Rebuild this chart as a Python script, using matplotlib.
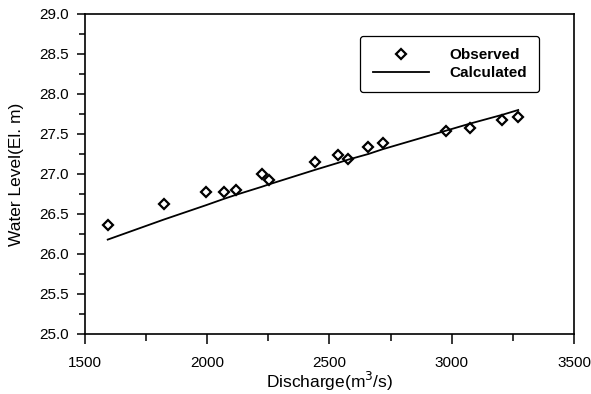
import matplotlib
matplotlib.use("Agg")
import matplotlib.pyplot as plt
from matplotlib.ticker import MultipleLocator

plt.rcParams['font.family'] = ['Liberation Sans', 'DejaVu Sans']

# discharge (m3/s) and water level (El. m)
discharge = [1593, 1822, 1995, 2069, 2118, 2223, 2252, 2439,
             2536, 2577, 2659, 2718, 2975, 3075, 3207, 3272]
observed = [26.36, 26.63, 26.78, 26.77, 26.80, 27.00, 26.92, 27.15,
            27.24, 27.19, 27.34, 27.39, 27.54, 27.57, 27.68, 27.71]
calculated = [26.18, 26.43, 26.61, 26.69, 26.74, 26.84, 26.87, 27.05,
              27.14, 27.18, 27.25, 27.31, 27.54, 27.63, 27.74, 27.80]

fig = plt.figure(figsize=(5.91, 3.94), dpi=100)
ax = fig.add_axes([0.1438, 0.1523, 0.8274, 0.8122])

ax.plot(discharge, observed, linestyle='none', marker='D', markersize=5,
        markerfacecolor='white', markeredgecolor='black', markeredgewidth=1.6,
        label='Observed')
ax.plot(discharge, calculated, color='black', linewidth=1.3, label='Calculated')

ax.set_xlim(1500, 3500)
ax.set_ylim(25.0, 29.0)
ax.xaxis.set_major_locator(MultipleLocator(500))
ax.xaxis.set_minor_locator(MultipleLocator(250))
ax.yaxis.set_major_locator(MultipleLocator(0.5))
ax.yaxis.set_minor_locator(MultipleLocator(0.25))
ax.yaxis.set_major_formatter(plt.FormatStrFormatter('%.1f'))

for s in ax.spines.values():
    s.set_linewidth(1.2)
ax.tick_params(which='both', direction='out', top=False, right=False,
               width=1.1, labelsize=11)
ax.tick_params(axis='x', which='major', length=7, pad=9)
ax.tick_params(axis='x', which='minor', length=5)
ax.tick_params(axis='y', which='major', length=5.5, pad=6)
ax.tick_params(axis='y', which='minor', length=4)

ax.set_xlabel('Discharge(m$^3$/s)', fontsize=12.5, labelpad=0)
ax.set_ylabel('Water Level(El. m)', fontsize=12.5)
ax.yaxis.set_label_coords(-0.125, 0.5)

leg = ax.legend(loc='upper right', bbox_to_anchor=(0.928, 0.931),
                borderaxespad=0, prop={'weight': 'bold', 'size': 11},
                handlelength=3.7, handletextpad=1.3, labelspacing=0.25,
                borderpad=0.8, fancybox=True, framealpha=1, edgecolor='black')
leg.get_frame().set_linewidth(0.9)

fig.savefig('out.png', dpi=100)
